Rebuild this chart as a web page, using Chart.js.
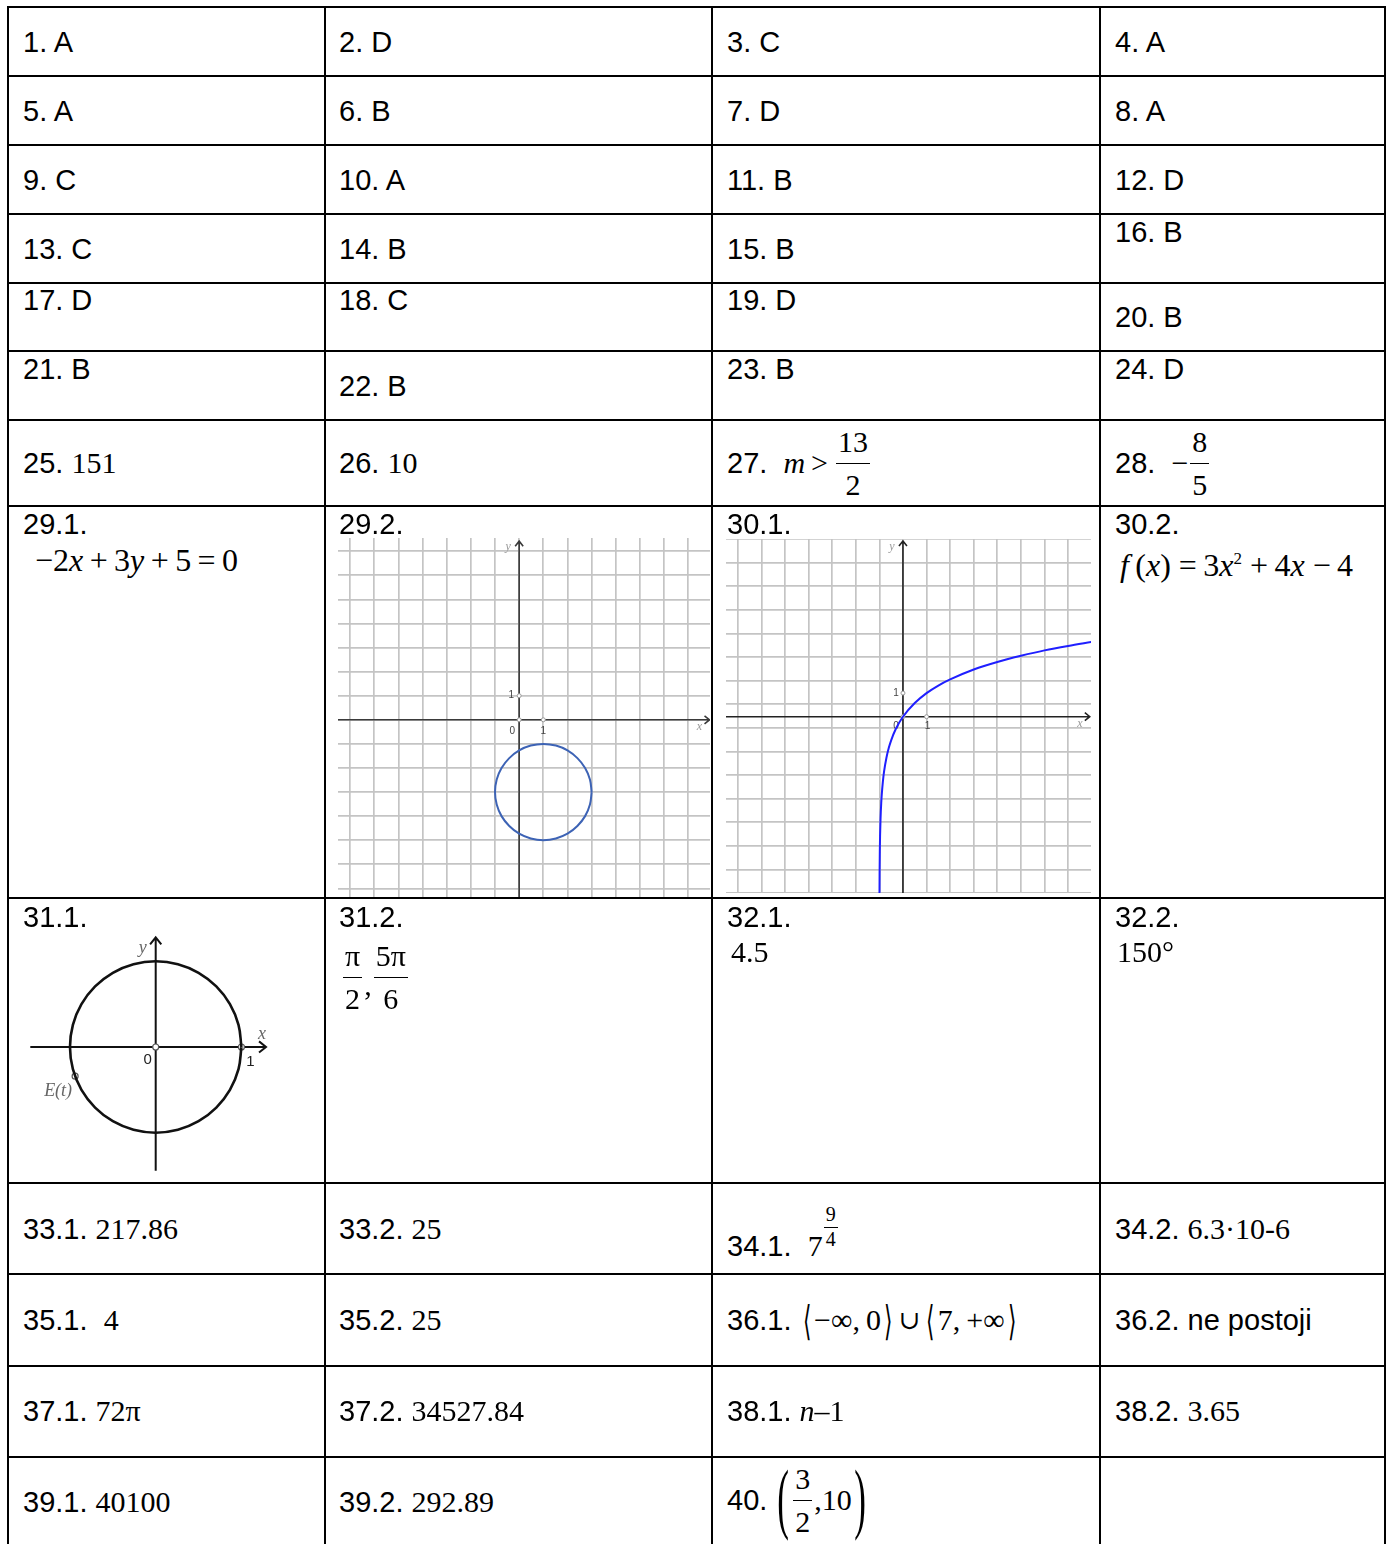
<!DOCTYPE html>
<html>
<head>
<meta charset="utf-8">
<script src="https://cdn.jsdelivr.net/npm/chart.js@4.4.1/dist/chart.umd.min.js"></script>
<style>
body { margin: 0; background: #fff; width: 1387px; height: 1544px; overflow: hidden; position: relative; }
.hl { position: absolute; left: 7px; width: 1379px; height: 2px; background: #000; }
.vl { position: absolute; top: 6px; height: 1540px; width: 2px; background: #000; }
.t { position: absolute; height: 40px; display: flex; align-items: center; white-space: nowrap;
     font: 29px "Liberation Sans", Arial, sans-serif; color: #000; }
.m { font: 30px "Liberation Serif", "Times New Roman", serif; }
.big { font-size: 32px; }
.i { font-style: italic; }
.fr { display: inline-flex; flex-direction: column; align-items: center; line-height: 1; margin: 0 2px; }
.fr span:first-child { border-bottom: 1.5px solid #000; padding: 0 2px 6px; }
.fr span:last-child { padding-top: 6px; }
.ab { font-family: "DejaVu Sans", sans-serif; font-size: 27px; display: inline-block; transform: scale(0.8, 1.5); margin: 0 2px; }
.cup { font: 26px "DejaVu Serif", serif; margin: 0 3px; }
.par { font: 78px "Liberation Serif", serif; display: inline-block; transform: scaleX(0.45); margin: 0 -5px; position: relative; top: -2px; }
canvas { position: absolute; }
</style>
</head>
<body>
<canvas id="g292" width="372" height="360" style="left:338px;top:538px"></canvas>
<canvas id="g301" width="365" height="354" style="left:726px;top:539px"></canvas>
<canvas id="g311" width="260" height="250" style="left:20px;top:930px"></canvas>
<script>
// 29.2: kruznica (x-1)^2 + (y+3)^2 = 4, ocitane tocke
const krugX = [3, 2.93, 2.73, 2.41, 2, 1.52, 1, 0.48, 0, -0.41, -0.73, -0.93, -1, -0.93, -0.73, -0.41, 0, 0.48, 1, 1.52, 2, 2.41, 2.73, 2.93, 3];
const krugY = [-3, -2.48, -2, -1.59, -1.27, -1.07, -1, -1.07, -1.27, -1.59, -2, -2.48, -3, -3.52, -4, -4.41, -4.73, -4.93, -5, -4.93, -4.73, -4.41, -4, -3.52, -3];

// 30.1: logaritamska krivulja
const logX = [-0.995, -0.99, -0.98, -0.97, -0.95, -0.92, -0.9, -0.85, -0.8, -0.7, -0.6, -0.5, -0.3, 0, 0.5, 1, 1.5, 2, 3, 4, 5, 6, 7, 8];
const logY = [-7.64, -6.64, -5.64, -5.06, -4.32, -3.64, -3.32, -2.74, -2.32, -1.74, -1.32, -1, -0.51, 0, 0.58, 1, 1.32, 1.58, 2, 2.32, 2.58, 2.81, 3, 3.17];

// 31.1: jedinicna kruznica i tocka E(t)
const jedX = [1, 0.966, 0.866, 0.707, 0.5, 0.259, 0, -0.259, -0.5, -0.707, -0.866, -0.966, -1, -0.966, -0.866, -0.707, -0.5, -0.259, 0, 0.259, 0.5, 0.707, 0.866, 0.966, 1];
const jedY = [0, 0.259, 0.5, 0.707, 0.866, 0.966, 1, 0.966, 0.866, 0.707, 0.5, 0.259, 0, -0.259, -0.5, -0.707, -0.866, -0.966, -1, -0.966, -0.866, -0.707, -0.5, -0.259, 0];
const tockeX = [0, 1, -0.94];
const tockeY = [0, 0, -0.34];

// oznake na osima (grafovi s mrezom)
const oznakeX = [0, 1, 0];
const oznakeY = [1, 0, 0];

function fr(a, b) {
    return '<span class="fr m"><span>' + a + '</span><span>' + b + '</span></span>';
}

// tekst tablice: [x, sredina y, html]
const odgovori = [
    [23, 42, '1. A'], [339, 42, '2. D'], [727, 42, '3. C'], [1115, 42, '4. A'],
    [23, 111, '5. A'], [339, 111, '6. B'], [727, 111, '7. D'], [1115, 111, '8. A'],
    [23, 180, '9. C'], [339, 180, '10. A'], [727, 180, '11. B'], [1115, 180, '12. D'],
    [23, 249, '13. C'], [339, 249, '14. B'], [727, 249, '15. B'], [1115, 232, '16. B'],
    [23, 300, '17. D'], [339, 300, '18. C'], [727, 300, '19. D'], [1115, 317, '20. B'],
    [23, 369, '21. B'], [339, 386, '22. B'], [727, 369, '23. B'], [1115, 369, '24. D'],
    [23, 463, '25.&nbsp;<span class="m">151</span>'],
    [339, 463, '26.&nbsp;<span class="m">10</span>'],
    [727, 463, '27.&nbsp;&nbsp;<span class="m i">m</span><span class="m">&thinsp;&gt;&thinsp;</span>' + fr('13', '2')],
    [1115, 463, '28.&nbsp;&nbsp;<span class="m">&minus;</span>' + fr('8', '5')],
    [23, 524, '29.1.'], [339, 524, '29.2.'], [727, 524, '30.1.'], [1115, 524, '30.2.'],
    [35, 560, '<span class="m big">&minus;2<span class="i">x</span>&thinsp;+&thinsp;3<span class="i">y</span>&thinsp;+&thinsp;5&thinsp;=&thinsp;0</span>'],
    [1120, 565, '<span class="m big"><span class="i">f</span>&thinsp;(<span class="i">x</span>)&nbsp;=&thinsp;3<span class="i">x</span><span style="font-size:17px;position:relative;top:-12px">2</span>&nbsp;+&thinsp;4<span class="i">x</span>&nbsp;&minus;&thinsp;4</span>'],
    [23, 917, '31.1.'], [339, 917, '31.2.'], [727, 917, '32.1.'], [1115, 917, '32.2.'],
    [341, 977, fr('&pi;', '2') + '<span class="m" style="position:relative;top:8px">,</span>' + fr('5&pi;', '6')],
    [731, 952, '<span class="m">4.5</span>'],
    [1117, 952, '<span class="m">150&deg;</span>'],
    [23, 1229, '33.1.&nbsp;<span class="m">217.86</span>'],
    [339, 1229, '33.2.&nbsp;<span class="m">25</span>'],
    [727, 1246, '34.1.&nbsp;&nbsp;<span class="m">7</span><span class="fr m" style="font-size:20px;position:relative;top:-20px;margin-left:1px"><span style="padding-bottom:3px">9</span><span style="padding-top:1px">4</span></span>'],
    [1115, 1229, '34.2.&nbsp;<span class="m">6.3&middot;10-6</span>'],
    [23, 1320, '35.1.&nbsp;&nbsp;<span class="m">4</span>'],
    [339, 1320, '35.2.&nbsp;<span class="m">25</span>'],
    [727, 1320, '36.1.&nbsp;<span class="ab">&#10216;</span><span class="m">&minus;&infin;,&thinsp;0</span><span class="ab">&#10217;</span><span class="cup">&cup;</span><span class="ab">&#10216;</span><span class="m">7,&thinsp;+&infin;</span><span class="ab">&#10217;</span>'],
    [1115, 1320, '36.2. ne postoji'],
    [23, 1411, '37.1.&nbsp;<span class="m">72&pi;</span>'],
    [339, 1411, '37.2.&nbsp;<span class="m">34527.84</span>'],
    [727, 1411, '38.1.&nbsp;<span class="m"><span class="i">n</span>&ndash;1</span>'],
    [1115, 1411, '38.2.&nbsp;<span class="m">3.65</span>'],
    [23, 1502, '39.1.&nbsp;<span class="m">40100</span>'],
    [339, 1502, '39.2.&nbsp;<span class="m">292.89</span>'],
    [727, 1500, '40.&nbsp;<span class="par">(</span>' + fr('3', '2') + '<span class="m">,10</span><span class="par">)</span>']
];

const stupci = [8, 325, 712, 1100, 1385];
const redovi = [7, 76, 145, 214, 283, 351, 420, 506, 898, 1183, 1274, 1366, 1457];

redovi.forEach(y => {
    const d = document.createElement('div');
    d.className = 'hl';
    d.style.top = (y - 1) + 'px';
    document.body.appendChild(d);
});
stupci.forEach(x => {
    const d = document.createElement('div');
    d.className = 'vl';
    d.style.left = (x - 1) + 'px';
    document.body.appendChild(d);
});
odgovori.forEach(o => {
    const d = document.createElement('div');
    d.className = 't';
    d.style.left = o[0] + 'px';
    d.style.top = (o[1] - 20) + 'px';
    d.innerHTML = o[2];
    document.body.appendChild(d);
});

// crta osi, strelice i oznake
const osiPlugin = {
    id: 'osi',
    beforeDatasetsDraw(chart, args, o) {
        const ctx = chart.ctx;
        const sx = chart.scales.x, sy = chart.scales.y;
        const x0 = sx.getPixelForValue(0), y0 = sy.getPixelForValue(0);
        const xa = sx.getPixelForValue(o.xOd), xb = sx.getPixelForValue(o.xDo);
        const ya = sy.getPixelForValue(o.yOd), yb = sy.getPixelForValue(o.yDo);
        const a = o.strelica;
        ctx.save();
        ctx.strokeStyle = o.boja;
        ctx.lineWidth = o.debljina;
        ctx.beginPath();
        ctx.moveTo(xa, y0); ctx.lineTo(xb, y0);
        ctx.moveTo(x0, ya); ctx.lineTo(x0, yb);
        ctx.moveTo(xb - a, y0 - a * 0.8); ctx.lineTo(xb, y0); ctx.lineTo(xb - a, y0 + a * 0.8);
        ctx.moveTo(x0 - a * 0.8, yb + a); ctx.lineTo(x0, yb); ctx.lineTo(x0 + a * 0.8, yb + a);
        ctx.stroke();
        ctx.textAlign = 'center';
        ctx.textBaseline = 'middle';
        o.oznake.forEach(l => {
            ctx.font = l.font;
            ctx.fillStyle = l.boja;
            ctx.fillText(l.tekst, sx.getPixelForValue(l.x) + l.dx, sy.getPixelForValue(l.y) + l.dy);
        });
        ctx.restore();
    }
};

function skala(min, max, mreza) {
    return {
        type: 'linear', min: min, max: max,
        display: mreza,
        ticks: { display: false, stepSize: 1, includeBounds: false },
        grid: { color: '#c4c4c4', lineWidth: 1.7, drawTicks: false },
        border: { display: false }
    };
}

function tocke(xs, ys) {
    return xs.map((x, i) => ({ x: x, y: ys[i] }));
}

function osnovneOpcije(sx, sy, osi) {
    return {
        responsive: false,
        animation: false,
        events: [],
        layout: { padding: 0, autoPadding: false },
        plugins: { legend: { display: false }, tooltip: { enabled: false }, osi: osi },
        scales: { x: sx, y: sy }
    };
}

const sivo = 'italic 12px "Liberation Serif", serif';
const mali = '10px "Liberation Sans", sans-serif';

new Chart(document.getElementById('g292'), {
    type: 'scatter',
    data: {
        datasets: [
            { data: tocke(krugX, krugY), showLine: true, borderColor: '#3d63b5', borderWidth: 2, pointRadius: 0, tension: 0.4 },
            { data: tocke(oznakeX, oznakeY), pointRadius: 2, pointBackgroundColor: '#fff', pointBorderColor: '#999', pointBorderWidth: 1 }
        ]
    },
    options: osnovneOpcije(skala(-7.5, 7.9, true), skala(-7.4, 7.55, true), {
        xOd: -7.5, xDo: 7.88, yOd: -7.4, yDo: 7.42, boja: '#3a3a3a', debljina: 1.6, strelica: 5,
        oznake: [
            { tekst: '1', x: 0, y: 1, dx: -8, dy: 0, font: mali, boja: '#444' },
            { tekst: '0', x: 0, y: 0, dx: -7, dy: 11, font: mali, boja: '#444' },
            { tekst: '1', x: 1, y: 0, dx: 0, dy: 11, font: mali, boja: '#444' },
            { tekst: 'y', x: 0, y: 7.42, dx: -11, dy: 6, font: sivo, boja: '#999' },
            { tekst: 'x', x: 7.88, y: 0, dx: -10, dy: 7, font: sivo, boja: '#999' }
        ]
    }),
    plugins: [osiPlugin]
});

new Chart(document.getElementById('g301'), {
    type: 'scatter',
    data: {
        datasets: [
            { data: tocke(logX, logY), showLine: true, borderColor: '#1f1fff', borderWidth: 2, pointRadius: 0, cubicInterpolationMode: 'monotone' },
            { data: tocke(oznakeX, oznakeY), pointRadius: 2, pointBackgroundColor: '#fff', pointBorderColor: '#999', pointBorderWidth: 1 }
        ]
    },
    options: osnovneOpcije(skala(-7.5, 7.97, true), skala(-7.47, 7.53, true), {
        xOd: -7.5, xDo: 7.92, yOd: -7.47, yDo: 7.44, boja: '#222', debljina: 1.6, strelica: 5,
        oznake: [
            { tekst: '1', x: 0, y: 1, dx: -7, dy: 0, font: mali, boja: '#444' },
            { tekst: '0', x: 0, y: 0, dx: -7, dy: 10, font: mali, boja: '#444' },
            { tekst: '1', x: 1, y: 0, dx: 1, dy: 10, font: mali, boja: '#444' },
            { tekst: 'y', x: 0, y: 7.44, dx: -11, dy: 6, font: sivo, boja: '#999' },
            { tekst: 'x', x: 7.92, y: 0, dx: -10, dy: 7, font: sivo, boja: '#999' }
        ]
    }),
    plugins: [osiPlugin]
});

new Chart(document.getElementById('g311'), {
    type: 'scatter',
    data: {
        datasets: [
            { data: tocke(jedX, jedY), showLine: true, borderColor: '#111', borderWidth: 2.6, pointRadius: 0, tension: 0.4 },
            { data: tocke(tockeX, tockeY), pointRadius: 3, pointBackgroundColor: '#fff', pointBorderColor: '#555', pointBorderWidth: 1.2 }
        ]
    },
    options: osnovneOpcije(skala(-1.583, 1.450, false), skala(-1.552, 1.365, false), {
        xOd: -1.463, xDo: 1.287, yOd: -1.444, yDo: 1.28, boja: '#111', debljina: 2, strelica: 7,
        oznake: [
            { tekst: 'x', x: 1.287, y: 0, dx: -4, dy: -13, font: 'italic 18px "Liberation Serif", serif', boja: '#666' },
            { tekst: 'y', x: 0, y: 1.28, dx: -13, dy: 11, font: 'italic 18px "Liberation Serif", serif', boja: '#666' },
            { tekst: '0', x: 0, y: 0, dx: -8, dy: 13, font: '15px "Liberation Sans", sans-serif', boja: '#222' },
            { tekst: '1', x: 1, y: 0, dx: 9, dy: 15, font: '15px "Liberation Sans", sans-serif', boja: '#222' },
            { tekst: 'E(t)', x: -0.94, y: -0.34, dx: -17, dy: 15, font: 'italic 18px "Liberation Serif", serif', boja: '#666' }
        ]
    }),
    plugins: [osiPlugin]
});
</script>
</body>
</html>
